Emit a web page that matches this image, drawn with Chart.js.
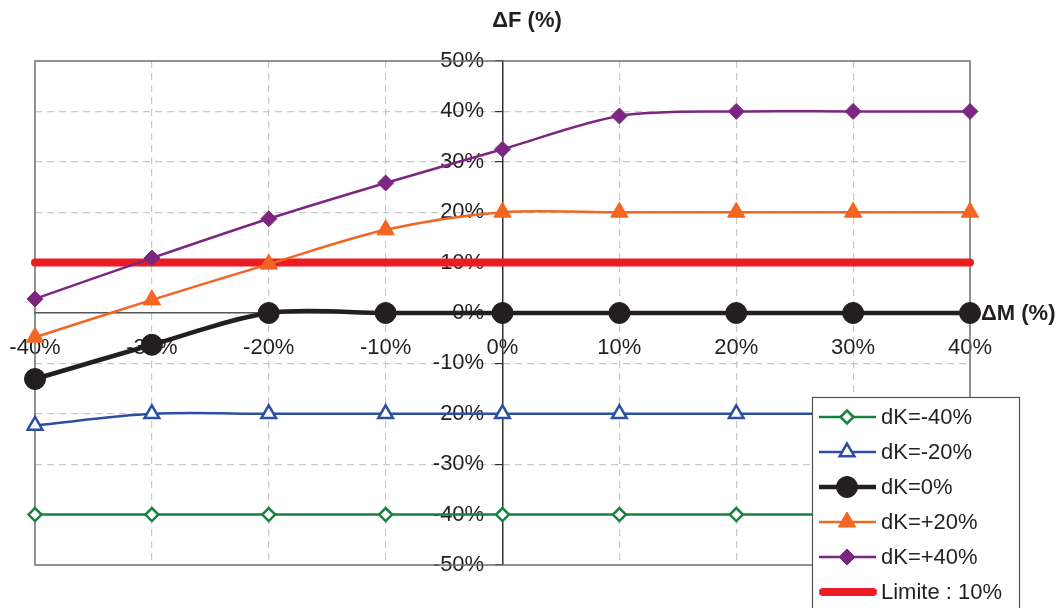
<!DOCTYPE html>
<html>
<head>
<meta charset="utf-8">
<script src="https://cdn.jsdelivr.net/npm/chart.js@4"></script>
<style>
  body { margin: 0; background: #fff; }
  #wrap { width: 1060px; height: 608px; }
</style>
</head>
<body>
<div id="wrap"><canvas id="myChart" width="1060" height="608"></canvas></div>
<script>
// valeurs
const deltaM = [-40, -30, -20, -10, 0, 10, 20, 30, 40];
const dKm40 = [-40, -40, -40, -40, -40, -40, -40, -40, -40];
const dKm20 = [-22.3, -20, -20, -20, -20, -20, -20, -20, -20];
const dK0 = [-13.1, -6.3, 0, 0, 0, 0, 0, 0, 0];
const dKp20 = [-4.8, 2.6, 9.7, 16.5, 20, 20, 20, 20, 20];
const dKp40 = [2.8, 10.9, 18.7, 25.8, 32.5, 39.1, 40, 40, 40];
const limite = [10, 10, 10, 10, 10, 10, 10, 10, 10];
const seriesLabels = ['dK=-40%', 'dK=-20%', 'dK=0%', 'dK=+20%', 'dK=+40%', 'Limite : 10%'];
const xTicks = [-40, -30, -20, -10, 0, 10, 20, 30, 40];
const yTicks = [-50, -40, -30, -20, -10, 0, 10, 20, 30, 40, 50];

const FONT = "'Liberation Sans', Arial, sans-serif";
const TXT = '#231f20';

function pts(values) {
    return values.map((v, i) => ({ x: deltaM[i], y: v }));
}

// Fonction pour construire un dataset
function serie(label, values, color, width, style, radius, filled) {
    return {
        label: label,
        data: pts(values),
        borderColor: color,
        borderWidth: width,
        backgroundColor: filled ? color : '#fff',
        pointStyle: style,
        pointRadius: radius,
        pointHoverRadius: radius,
        pointBorderWidth: filled ? 1 : 2.5,
        pointBackgroundColor: filled ? color : '#fff',
        pointBorderColor: color,
        tension: 0.3,
        clip: false
    };
}

const datasets = [
    serie(seriesLabels[0], dKm40, '#17813f', 2.5, 'rectRot', 6.5, false),
    serie(seriesLabels[1], dKm20, '#2c4fa3', 2.5, 'triangle', 8.5, false),
    serie(seriesLabels[2], dK0, '#231f20', 4.5, 'circle', 10.5, true),
    serie(seriesLabels[3], dKp20, '#f26522', 2.5, 'triangle', 10, true),
    serie(seriesLabels[4], dKp40, '#7d2681', 2.5, 'rectRot', 8, true),
    {
        label: seriesLabels[5],
        data: pts(limite),
        borderColor: '#ed1c24',
        borderWidth: 8,
        borderCapStyle: 'round',
        pointRadius: 0,
        tension: 0,
        clip: false
    }
];
datasets[5].order = 3;
datasets[2].order = 0;

// cadre du graphique
const framePlugin = {
    id: 'frame',
    beforeDatasetsDraw(chart) {
        const a = chart.chartArea;
        const ctx = chart.ctx;
        ctx.save();
        ctx.strokeStyle = '#6d6d6d';
        ctx.lineWidth = 1.5;
        ctx.strokeRect(a.left, a.top, a.right - a.left, a.bottom - a.top);
        ctx.restore();
    }
};

// titres des axes + légende
const extrasPlugin = {
    id: 'extras',
    afterDraw(chart) {
        const ctx = chart.ctx;
        const yZero = chart.scales.y.getPixelForValue(0);
        ctx.save();
        ctx.font = 'bold 22px ' + FONT;
        ctx.fillStyle = TXT;
        ctx.textBaseline = 'middle';
        ctx.textAlign = 'center';
        ctx.fillText('\u0394F (%)', 527, 21);
        ctx.textAlign = 'left';
        ctx.fillText('\u0394M (%)', 981, yZero + 1);

        // légende
        const bx = 812, by = 397, bw = 207, bh = 230, row = 35;
        ctx.fillStyle = '#fff';
        ctx.fillRect(bx, by, bw, bh);
        ctx.strokeStyle = '#555';
        ctx.lineWidth = 1.2;
        ctx.strokeRect(bx + 0.5, by + 0.5, bw, bh);
        chart.data.datasets.forEach((ds, i) => {
            const cy = by + 20 + i * row;
            ctx.strokeStyle = ds.borderColor;
            ctx.lineWidth = ds.borderWidth;
            ctx.lineCap = i === 5 ? 'round' : 'butt';
            ctx.beginPath();
            ctx.moveTo(i === 5 ? 823 : 819, cy);
            ctx.lineTo(i === 5 ? 873 : 876, cy);
            ctx.stroke();
            if (ds.pointRadius > 0) {
                ctx.fillStyle = ds.pointBackgroundColor;
                ctx.strokeStyle = ds.pointBorderColor;
                ctx.lineWidth = ds.pointBorderWidth;
                Chart.helpers.drawPoint(ctx, {
                    pointStyle: ds.pointStyle,
                    radius: ds.pointRadius,
                    rotation: 0,
                    borderWidth: ds.pointBorderWidth
                }, 847, cy);
            }
            ctx.fillStyle = TXT;
            ctx.font = '22px ' + FONT;
            ctx.textAlign = 'left';
            ctx.textBaseline = 'middle';
            ctx.fillText(ds.label, 881, cy + 1);
        });
        ctx.restore();
    }
};

// les axes centrés ne doivent pas réduire la zone du graphique
function noMargin(scale) {
    scale.paddingLeft = 0;
    scale.paddingRight = 0;
    scale.paddingTop = 0;
    scale.paddingBottom = 0;
}

const ctx = document.getElementById('myChart').getContext('2d');
new Chart(ctx, {
    type: 'line',
    data: { datasets: datasets },
    plugins: [framePlugin, extrasPlugin],
    options: {
        responsive: false,
        animation: false,
        events: [],
        layout: { padding: { left: 35, right: 90, top: 61, bottom: 43 } },
        plugins: {
            legend: { display: false },
            tooltip: { enabled: false },
            title: { display: false }
        },
        scales: {
            x: {
                type: 'linear',
                min: -40,
                max: 40,
                position: { y: 0 },
                afterBuildTicks: (axis) => { axis.ticks = xTicks.map(v => ({ value: v })); },
                afterFit: noMargin,
                ticks: {
                    color: TXT,
                    font: { family: FONT, size: 22 },
                    padding: 22,
                    maxRotation: 0,
                    callback: (v) => v + '%'
                },
                grid: {
                    color: (c) => (c.tick && (c.tick.value === 0 || Math.abs(c.tick.value) === 40)) ? 'rgba(0,0,0,0)' : '#c8c8c8',
                    lineWidth: 1.2,
                    drawTicks: false
                },
                border: { display: true, color: '#555', width: 1.5, dash: [7, 5] }
            },
            y: {
                type: 'linear',
                min: -50,
                max: 50,
                position: { x: 0 },
                afterBuildTicks: (axis) => { axis.ticks = yTicks.map(v => ({ value: v })); },
                afterFit: noMargin,
                ticks: {
                    color: TXT,
                    font: { family: FONT, size: 22 },
                    // espaces en fin de texte pour décaler l'étiquette de l'axe
                    callback: (v) => v + '%   '
                },
                grid: {
                    color: (c) => (c.tick && (c.tick.value === 0 || Math.abs(c.tick.value) === 50)) ? 'rgba(0,0,0,0)' : '#c8c8c8',
                    lineWidth: 1.2,
                    drawTicks: true,
                    tickLength: 7,
                    tickColor: '#333',
                    tickWidth: 1.2
                },
                border: { display: true, color: '#333', width: 1.5, dash: [7, 5] }
            }
        }
    }
});
</script>
</body>
</html>
